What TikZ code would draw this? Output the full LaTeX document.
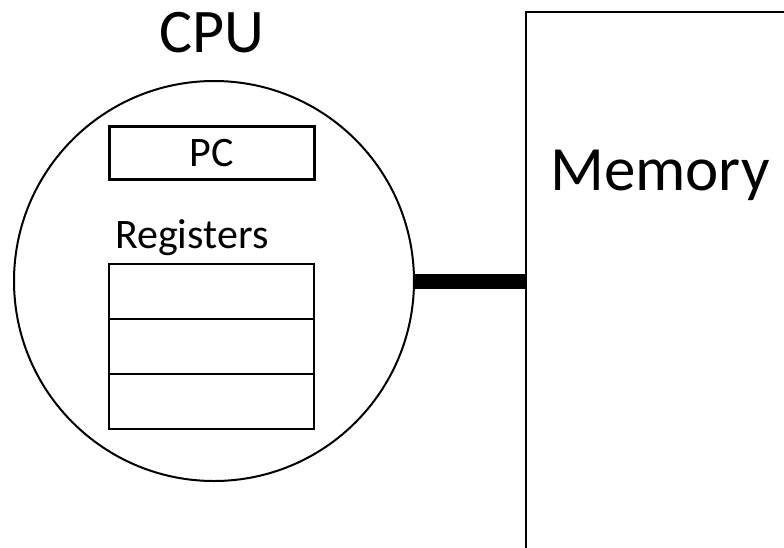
\documentclass[tikz,border=0pt]{standalone}
\usepackage{fontspec}
\setmainfont{Carlito}
\usetikzlibrary{positioning}
\tikzstyle{part}= [draw=black, line width=2.5pt, inner sep=0pt, outer sep=0pt]
\tikzstyle{reg}= [part, minimum width=205pt, minimum height=55pt]
\tikzstyle{big}= [font=\fontsize{62}{70}\selectfont, inner sep=0pt]
\tikzstyle{small}= [font=\fontsize{42}{48}\selectfont, inner sep=0pt]
\tikzstyle{bus}= [line width=15pt]

\begin{document}
\begin{tikzpicture}[x=1pt, y=-1pt, node distance=0pt]
    \useasboundingbox (0,0) rectangle (784,547);

    % the processor
    \node [draw, circle, line width=2pt, minimum size=400pt] (cpu) at (214,281) {};
    \node [big, anchor=base] (cpuName) at (212,52) {CPU};

    \node [reg, small, minimum height=53pt] (pc) at (212,153) {PC};
    \node [small, anchor=base west] (regName) at (115,248) {Registers};

    % register file
    \node [reg, anchor=north] (reg1) at (211.5,264) {};
    \node [reg, below=of reg1] (reg2) {};
    \node [reg, below=of reg2] (reg3) {};

    % main memory
    \node [part, anchor=north west, minimum width=300pt, minimum height=560pt] (mem) at (526,12) {};
    \node [big, font=\fontsize{63}{70}\selectfont, anchor=base west] (memName) at (550,190) {Memory};

    % bus
    \draw [bus] (cpu.east) -- (cpu.east -| mem.west);

\end{tikzpicture}
\end{document}
